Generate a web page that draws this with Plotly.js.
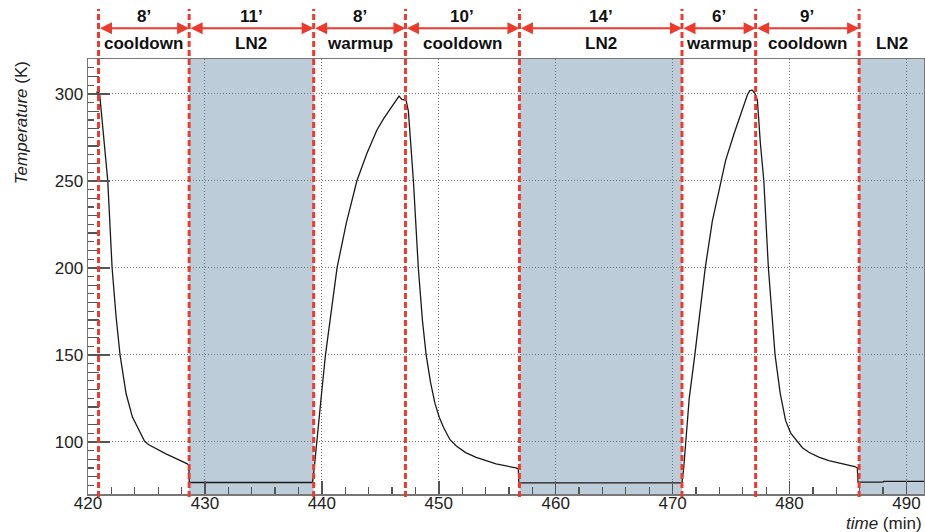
<!DOCTYPE html>
<html><head><meta charset="utf-8">
<script src="https://cdn.plot.ly/plotly-3.0.1.min.js"></script>
<style>html,body{margin:0;padding:0;background:#fff}#chart{width:925px;height:532px}</style>
</head><body><div id="chart"></div>
<script>
// Temperature readout (K) vs time (min)
const timeMin = [
  420.7, 420.9, 421.0, 421.3, 421.69, 422.06, 422.4, 422.74, 423.0, 423.26, 423.8, 424.2, 424.6, 424.84, 425.2, 425.8, 426.67, 428.5, 428.62, 428.66, 439.2,
  439.35, 439.59, 439.95, 440.31, 440.8, 441.3, 442.1, 443.0, 443.85, 444.7, 445.3, 445.85, 446.3, 446.6, 446.84, 447.2,
  447.4, 447.6, 447.83, 448.25, 448.6, 448.92, 449.3, 449.68, 450.05, 450.4, 450.96, 451.5, 452.3, 453.2, 454.9, 456.6, 456.8, 456.85, 470.8,
  470.95, 471.13, 471.42, 471.9, 472.35, 472.79, 473.4, 474.12, 474.54, 475.26, 475.97, 476.4, 476.6, 476.82, 477.05, 477.25,
  477.5, 477.8, 478.19, 478.5, 478.76, 479.2, 479.66, 480.1, 480.66, 481.1, 481.65, 482.5, 483.36, 484.5, 485.58, 485.8, 485.85, 488.0, 488.05, 491.5
];
const tempK = [
  301.0, 301.0, 299.7, 279.0, 250.0, 200.0, 172.0, 150.0, 137.5, 127.6, 114.2, 108.5, 103.0, 100.3, 98.3, 96.2, 93.1, 87.3, 86.5, 76.6, 76.6,
  85.0, 100.0, 126.0, 150.0, 176.0, 200.0, 226.0, 250.0, 265.7, 279.1, 285.9, 291.6, 295.6, 298.7, 296.8, 296.4,
  290.0, 272.0, 250.0, 200.0, 170.0, 150.0, 134.0, 121.9, 114.0, 108.4, 101.2, 97.6, 93.8, 91.1, 87.3, 85.0, 84.5, 76.4, 76.4,
  85.0, 100.0, 125.0, 150.0, 176.0, 200.0, 227.0, 250.0, 261.9, 277.2, 290.6, 299.5, 301.8, 302.1, 300.0, 296.4,
  272.0, 250.0, 200.0, 172.0, 150.0, 128.0, 112.3, 105.0, 100.0, 96.6, 94.0, 91.2, 89.2, 87.4, 85.8, 85.0, 76.8, 76.8, 77.3, 77.3
];
// Phase boundaries (min), durations and phase names
const boundaries = [420.9, 428.65, 439.3, 447.15, 456.9, 470.8, 477.1, 485.95];
const durationLabels = ["8’", "11’", "8’", "10’", "14’", "6’", "9’"];
const phaseLabels = ["cooldown", "LN2", "warmup", "cooldown", "LN2", "warmup", "cooldown", "LN2"];
const xRange = [420, 491.5];
const yRange = [70, 320];

const RED = '#ee3a2c';
const FONT = 'Liberation Sans, Arial, Helvetica, sans-serif';

const shapes = [];
const annotations = [];

// LN2 shaded bands
phaseLabels.forEach((p, i) => {
  if (p === 'LN2') {
    const x0 = boundaries[i];
    const x1 = i + 1 < boundaries.length ? boundaries[i + 1] : xRange[1];
    shapes.push({type: 'rect', xref: 'x', yref: 'paper', x0: x0, x1: x1, y0: 0, y1: 1,
      fillcolor: '#bccdd9', line: {width: 0}, layer: 'below'});
  }
});
// red dashed boundaries
boundaries.forEach(b => {
  shapes.push({type: 'line', xref: 'x', yref: 'paper', x0: b, x1: b, y0: -0.007, y1: 1.115,
    line: {color: RED, width: 3, dash: '6px,3px'}, layer: 'above'});
});
// arrows + labels
for (let i = 0; i < durationLabels.length; i++) {
  const a = boundaries[i], b = boundaries[i + 1];
  annotations.push({xref: 'x', yref: 'paper', x: b, y: 1.0706, axref: 'x', ax: a, ayref: 'pixel', ay: 0,
    text: '', showarrow: true, arrowside: 'end+start', arrowhead: 2, startarrowhead: 2,
    arrowsize: 1.2, startarrowsize: 1.2, arrowwidth: 2, arrowcolor: RED, standoff: 0, startstandoff: 0});
  annotations.push({xref: 'x', yref: 'paper', x: (a + b) / 2, y: 1.0966, text: durationLabels[i],
    showarrow: false, xanchor: 'center', yanchor: 'middle',
    font: {family: FONT, size: 17, color: '#111', weight: 700}});
}
phaseLabels.forEach((p, i) => {
  const a = boundaries[i];
  const b = i + 1 < boundaries.length ? boundaries[i + 1] : xRange[1];
  annotations.push({xref: 'x', yref: 'paper', x: (a + b) / 2, y: 1.0361, text: p,
    showarrow: false, xanchor: 'center', yanchor: 'middle',
    font: {family: FONT, size: 17, color: '#111', weight: 700}});
});
// axis titles
annotations.push({xref: 'paper', yref: 'paper', x: -0.0793, y: 1.0, xanchor: 'center', yanchor: 'top',
  textangle: -90, text: '<i>Temperature</i> (K)', showarrow: false, font: {family: FONT, size: 17, color: '#222'}});
annotations.push({xref: 'paper', yref: 'paper', x: 1.0, y: -0.067, xanchor: 'right', yanchor: 'middle',
  text: '<i>time</i> (min)', showarrow: false, font: {family: FONT, size: 17, color: '#222'}});

const traces = [
  {x: timeMin, y: tempK, type: 'scatter', mode: 'lines', line: {color: '#1a1a1a', width: 1.3}, hoverinfo: 'skip', showlegend: false},
  {x: [xRange[0]], y: [yRange[0]], yaxis: 'y2', type: 'scatter', mode: 'markers', marker: {opacity: 0}, showlegend: false, hoverinfo: 'skip'}
];

const layout = {
  width: 925, height: 532,
  margin: {l: 88, r: 1, t: 59, b: 38},
  paper_bgcolor: '#fff', plot_bgcolor: '#fff',
  showlegend: false,
  font: {family: FONT, size: 17, color: '#222'},
  xaxis: {range: xRange, tick0: 420, dtick: 10, ticks: 'inside', ticklen: 13, tickwidth: 1.5, tickcolor: '#555',
    showline: true, linecolor: '#777', linewidth: 1.5, mirror: true, zeroline: false,
    showgrid: true, gridcolor: '#777', griddash: '1px,2px', gridwidth: 1,
    ticklabelstandoff: -7,
    minor: {dtick: 2, tick0: 420, ticks: 'inside', ticklen: 7, tickwidth: 1.2, tickcolor: '#555', showgrid: false},
    tickfont: {family: FONT, size: 17, color: '#222'}},
  yaxis: {range: yRange, tick0: 0, dtick: 50, ticks: 'inside', ticklen: 22, tickwidth: 1.5, tickcolor: '#555',
    showline: true, linecolor: '#777', linewidth: 1.5, mirror: true, zeroline: false,
    showgrid: true, gridcolor: '#777', griddash: '1px,2px', gridwidth: 1,
    minor: {dtick: 10, tick0: 0, ticks: 'inside', ticklen: 11, tickwidth: 1.2, tickcolor: '#555', showgrid: false},
    tickfont: {family: FONT, size: 17, color: '#222'}},
  yaxis2: {overlaying: 'y', range: yRange, side: 'left', tick0: 0, dtick: 5, ticks: 'inside', ticklen: 6,
    tickwidth: 1.2, tickcolor: '#555', showticklabels: false, showgrid: false, zeroline: false, showline: false},
  shapes: shapes,
  annotations: annotations
};

Plotly.newPlot('chart', traces, layout, {displayModeBar: false, staticPlot: true});
</script>
</body></html>
